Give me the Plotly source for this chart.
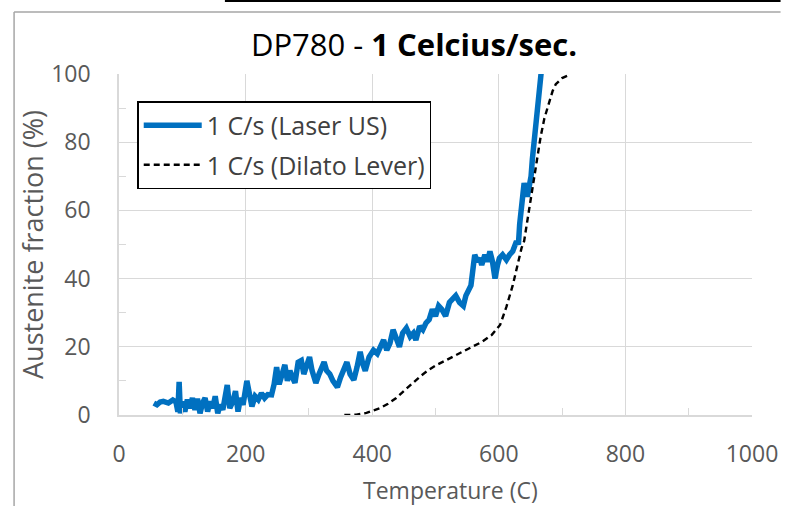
import plotly.graph_objects as go

# Laser US series (temperature C, austenite fraction %)
laser_T = [55, 60, 65, 70, 78, 85, 90, 93, 95, 97, 100, 104, 108, 112, 116, 120, 124, 128, 132, 136,
           140, 144, 148, 152, 156, 160, 164, 168, 171, 175, 180, 184, 188, 192, 196, 202, 206, 210, 215, 220,
           225, 230, 235, 241, 245, 249, 253, 257, 262, 266, 270, 274, 278, 283, 288, 292, 296, 301, 305, 311,
           316, 320, 324, 328, 333, 338, 345, 350, 355, 360, 365, 371, 376, 381, 385, 389, 395, 402, 408, 413,
           418, 423, 428, 433, 438, 443, 448, 454, 460, 465, 469, 475, 480, 485, 490, 495, 500, 505, 510, 516,
           522, 527, 532, 538, 544, 548, 552, 556, 560, 562, 566, 570, 573, 578, 582, 586, 590, 594, 598, 601,
           606, 612, 617, 622, 628, 631, 633, 636, 640, 643, 645, 648, 651, 653, 656, 658, 661, 664, 667, 670]
laser_y = [3.5, 3.0, 3.8, 4.0, 3.5, 4.4, 3.8, 1.0, 9.7, 0.5, 4.0, 1.0, 4.5, 2.0, 5.0, 1.5, 4.8, 0.5, 3.5, 5.0,
           1.0, 4.0, 2.0, 5.5, 0.5, 3.0, 1.5, 6.0, 8.8, 2.0, 4.0, 7.0, 1.0, 5.0, 3.0, 10.0, 5.0, 2.5, 5.5, 4.5,
           6.4, 5.0, 6.0, 5.9, 9.0, 14.0, 9.0, 12.0, 14.7, 10.0, 13.0, 11.0, 9.4, 15.5, 16.0, 12.0, 14.0, 17.0, 13.0, 9.4,
           12.0, 14.0, 15.5, 13.0, 12.0, 10.0, 8.2, 11.0, 13.0, 15.5, 12.0, 10.3, 14.0, 18.5, 15.0, 13.0, 17.0, 19.0, 18.0, 20.0,
           22.0, 19.0, 21.0, 25.0, 22.0, 20.0, 24.0, 25.5, 23.0, 24.0, 22.0, 26.0, 25.0, 27.0, 28.0, 31.0, 29.0, 32.0, 31.0, 29.0,
           33.0, 34.0, 35.0, 33.0, 32.0, 35.0, 36.7, 38.0, 44.0, 47.0, 45.0, 46.0, 44.0, 47.0, 45.0, 48.0, 45.0, 40.0, 44.0, 46.0,
           47.0, 45.5, 47.0, 48.0, 51.0, 50.0, 56.0, 61.0, 68.0, 66.0, 64.0, 67.0, 70.0, 75.0, 80.6, 83.0, 89.0, 95.0, 100.0, 106.0]

# Dilatometry lever-rule series
dilato_T = [356, 375, 391, 412, 425, 438, 451, 464, 477, 489, 502, 516, 531, 547, 560, 573, 589, 602, 612, 622,
            629, 636, 640, 646, 653, 660, 666, 672, 679, 685, 690, 700, 711]
dilato_y = [0, 0.1, 0.6, 2.0, 3.3, 5.0, 7.2, 9.4, 11.5, 13.2, 14.7, 16.0, 17.5, 19.0, 20.2, 21.4, 23.5, 26.4, 31.7, 38.0,
            44.0, 49.0, 51.0, 58.0, 67.0, 75.0, 81.5, 87.0, 91.5, 95.0, 97.0, 98.8, 99.7]

x_ticks = [0, 200, 400, 600, 800, 1000]
y_ticks = [0, 20, 40, 60, 80, 100]

FONT = "Open Sans"
GRID = "#d9d9d9"
TXT = "#595959"

fig = go.Figure()
fig.add_trace(go.Scatter(x=laser_T, y=laser_y, mode="lines", name="1 C/s (Laser US)",
                         legendgroup="a", line=dict(color="#0070C0", width=5.5)))
fig.add_trace(go.Scatter(x=dilato_T, y=dilato_y, mode="lines", name="1 C/s (Dilato Lever)",
                         legendgroup="b", line=dict(color="#000000", width=2.4, dash="6px,4px")))

W, H = 790, 506
L, R, T, B = 118.5, 29, 74, 91
pw, ph = W - L - R, H - T - B


def px(x):
    return (x - L) / pw


def py(y):
    return (H - B - y) / ph


fig.update_layout(
    width=W, height=H,
    margin=dict(l=L, r=R, t=T, b=B, pad=0),
    paper_bgcolor="white", plot_bgcolor="white",
    title=dict(text="DP780 - <b>1 Celcius/sec.</b>", x=414 / W, xanchor="center",
               y=1 - 45 / H, yanchor="middle", font=dict(family=FONT, size=31, color="#000000")),
    font=dict(family=FONT, color=TXT),
    showlegend=True,
    legend=dict(x=px(137), y=py(101), xanchor="left", yanchor="top",
                bordercolor="#000000", borderwidth=1.5, bgcolor="white",
                font=dict(family=FONT, size=25, color="#404040"),
                itemwidth=58, tracegroupgap=4, traceorder="grouped"),
    shapes=[
        dict(type="line", xref="paper", yref="paper", x0=px(12), x1=px(790), y0=py(12), y1=py(12),
             line=dict(color="#a6a6a6", width=1.5)),
        dict(type="line", xref="paper", yref="paper", x0=px(12), x1=px(12), y0=py(12), y1=py(506),
             line=dict(color="#a6a6a6", width=1.5)),
        dict(type="line", xref="paper", yref="paper", x0=px(226), x1=px(790), y0=py(1), y1=py(1),
             line=dict(color="#000000", width=2)),
    ],
    annotations=[
        dict(text="Temperature (C)", xref="paper", yref="paper", x=px(455), y=py(490),
             xanchor="center", yanchor="middle", showarrow=False,
             font=dict(family=FONT, size=23, color=TXT)),
    ],
)

fig.update_xaxes(range=[0, 1000], tickvals=x_ticks, ticktext=[str(v) for v in x_ticks],
                 showgrid=True, gridcolor=GRID, gridwidth=1.3,
                 showline=True, linecolor=GRID, linewidth=1.5, zeroline=False,
                 ticks="", ticklabelstandoff=18,
                 minor=dict(tickvals=[100, 300, 500, 700, 900], ticks="inside", ticklen=7,
                            tickcolor=GRID, tickwidth=1.3, showgrid=False),
                 tickfont=dict(family=FONT, size=23, color=TXT))
fig.update_yaxes(range=[0, 100], tickvals=y_ticks, ticktext=[str(v) for v in y_ticks],
                 showgrid=True, gridcolor=GRID, gridwidth=1.3,
                 showline=True, linecolor=GRID, linewidth=1.5, zeroline=False,
                 ticks="", ticklabelstandoff=22,
                 minor=dict(tickvals=[10, 30, 50, 70, 90], ticks="inside", ticklen=7,
                            tickcolor=GRID, tickwidth=1.3, showgrid=False),
                 tickfont=dict(family=FONT, size=23, color=TXT),
                 title=dict(text="Austenite fraction (%)", font=dict(family=FONT, size=27, color=TXT), standoff=0))

fig.write_html("out.html")
